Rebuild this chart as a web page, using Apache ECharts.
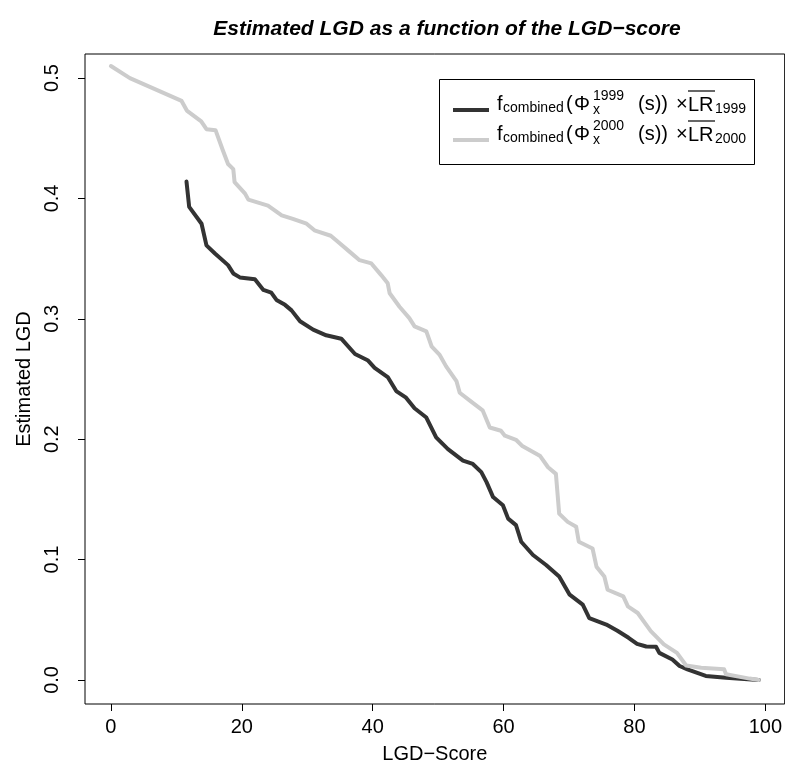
<!DOCTYPE html>
<html><head><meta charset="utf-8">
<script src="https://cdn.jsdelivr.net/npm/echarts@6/dist/echarts.min.js"></script>
<style>html,body{margin:0;padding:0;background:#fff}#c{width:785px;height:769px}</style>
</head><body><div id="c"></div>
<script>
const xTicks = [0, 20, 40, 60, 80, 100];
const yTicks = [0, 0.1, 0.2, 0.3, 0.4, 0.5];
const titleText = 'Estimated LGD as a function of the LGD\u2212score';
const xName = 'LGD\u2212Score';
const yName = 'Estimated LGD';
const seriesNames = ['1999', '2000'];
// LGD-score (x) and estimated LGD (y), 1999
const lgd1999 = [[11.55,0.414],[11.96,0.393],[13.85,0.379],[14.6,0.361],[15.9,0.3543],[17.9,0.3446],[18.7,0.3377],[19.7,0.3344],[22.0,0.3328],[23.3,0.324],[24.5,0.3218],[25.3,0.3157],[26.6,0.3116],[27.6,0.307],[28.9,0.298],[30.9,0.291],[32.9,0.2863],[35.2,0.2835],[37.3,0.2708],[39.3,0.2653],[40.3,0.2593],[42.3,0.2516],[43.6,0.240],[45.1,0.2345],[46.4,0.2257],[48.2,0.218],[49.7,0.2015],[51.5,0.1918],[53.8,0.1822],[55.3,0.1794],[56.6,0.1726],[57.4,0.1643],[58.4,0.1519],[59.9,0.1451],[60.7,0.134],[61.9,0.1286],[62.7,0.1148],[64.5,0.1038],[66.5,0.0955],[68.5,0.0859],[70.1,0.0708],[72.1,0.0625],[73.1,0.0514],[75.7,0.046],[77.4,0.0408],[79.1,0.035],[80.4,0.030],[81.8,0.0278],[83.3,0.0275],[83.8,0.0225],[85.8,0.017],[86.9,0.0116],[88.1,0.0088],[90.9,0.0033],[94.0,0.0019],[99,0.000]];
// 2000
const lgd2000 = [[0,0.510],[2.9,0.500],[10.8,0.481],[11.6,0.473],[13.8,0.464],[14.6,0.4575],[16.0,0.4566],[17.1,0.440],[17.9,0.4286],[18.7,0.4244],[18.9,0.4135],[20.5,0.404],[21.0,0.399],[24.0,0.394],[26.1,0.386],[27.8,0.383],[29.9,0.379],[31.1,0.3735],[33.6,0.369],[35.0,0.3625],[36.5,0.3556],[38.0,0.3487],[39.8,0.346],[41.3,0.3363],[42.3,0.3295],[42.6,0.3212],[44.1,0.310],[45.6,0.3006],[46.4,0.2937],[48.2,0.2896],[49.0,0.2772],[50.2,0.2703],[51.2,0.2607],[52.8,0.2483],[53.3,0.2386],[54.8,0.2323],[56.8,0.2240],[57.9,0.2097],[59.6,0.207],[60.2,0.2029],[61.9,0.1995],[62.8,0.1946],[65.6,0.186],[66.8,0.1767],[68.0,0.1712],[68.5,0.1382],[69.8,0.1313],[71.1,0.1272],[71.5,0.1148],[73.6,0.1092],[74.2,0.0941],[75.4,0.0859],[75.9,0.0749],[78.3,0.0694],[79.0,0.0611],[80.5,0.0556],[82.5,0.0405],[84.5,0.0295],[86.5,0.0225],[87.9,0.012],[90.2,0.0102],[93.7,0.0088],[94.0,0.0047],[97.6,0.0011],[99,0.000]];

const FONT = '"Liberation Sans", Arial, Helvetica, sans-serif';
const C1999 = '#333333', C2000 = '#cccccc';

function legendRow(y0, year, color) {
  const mainSize = 20, subSize = 14;
  const t = (x, y, s, size) => ({ type: 'text', x: x, y: y,
    style: { text: s, font: size + 'px ' + FONT, fill: '#000', align: 'left', verticalAlign: 'middle' } });
  return [
    { type: 'line', shape: { x1: 453, y1: y0 + 6, x2: 489, y2: y0 + 6 }, style: { stroke: color, lineWidth: 4 } },
    t(497, y0, 'f', mainSize),
    t(503, y0 + 4, 'combined', subSize),
    t(566, y0, '(', mainSize),
    t(574, y0, '\u03A6', mainSize),
    t(593, y0 - 8, year, subSize),
    t(593, y0 + 6, 'x', subSize),
    t(638, y0, '(s))', mainSize),
    t(676, y0, '\u00D7', mainSize),
    t(688, y0 + 1, 'LR', mainSize),
    { type: 'line', shape: { x1: 688, y1: y0 - 13, x2: 715, y2: y0 - 13 }, style: { stroke: '#000', lineWidth: 1.2 } },
    t(715, y0 + 5, year, subSize)
  ];
}

const chart = echarts.init(document.getElementById('c'), null, { renderer: 'canvas' });
chart.setOption({
  animation: false,
  backgroundColor: '#fff',
  textStyle: { fontFamily: FONT },
  title: {
    text: titleText, left: 442, top: 14, textAlign: 'center',
    textStyle: { fontFamily: FONT, fontSize: 21, fontWeight: 'bold', fontStyle: 'italic', color: '#000' }
  },
  grid: { left: 85, right: 0, top: 54, bottom: 61, show: true, borderColor: '#000', borderWidth: 1, backgroundColor: 'transparent' },
  xAxis: {
    type: 'value', min: -3.96, max: 102.96,
    name: xName, nameLocation: 'middle', nameGap: 40,
    nameTextStyle: { fontFamily: FONT, fontSize: 20, color: '#000' },
    axisLine: { show: false, onZero: false },
    splitLine: { show: false },
    axisTick: { show: true, length: 7, inside: false, customValues: xTicks, lineStyle: { color: '#000', width: 1 } },
    axisLabel: { customValues: xTicks, margin: 13, fontFamily: FONT, fontSize: 20, color: '#000', formatter: v => String(v) }
  },
  yAxis: {
    type: 'value', min: -0.02, max: 0.52,
    name: yName, nameLocation: 'middle', nameGap: 46, nameRotate: 90,
    nameTextStyle: { fontFamily: FONT, fontSize: 20, color: '#000' },
    axisLine: { show: false, onZero: false },
    splitLine: { show: false },
    axisTick: { show: true, length: 7, inside: false, customValues: yTicks, lineStyle: { color: '#000', width: 1 } },
    axisLabel: { customValues: yTicks, rotate: 90, margin: 23, fontFamily: FONT, fontSize: 20, color: '#000', formatter: v => v.toFixed(1) }
  },
  series: [
    { name: seriesNames[0], type: 'line', data: lgd1999, showSymbol: false, symbol: 'none',
      lineStyle: { color: C1999, width: 4, cap: 'round', join: 'round' }, z: 2 },
    { name: seriesNames[1], type: 'line', data: lgd2000, showSymbol: false, symbol: 'none',
      lineStyle: { color: C2000, width: 4, cap: 'round', join: 'round' }, z: 3 }
  ],
  graphic: [
    { type: 'group', z: 100, children: [
      { type: 'rect', shape: { x: 439.5, y: 79.5, width: 315, height: 85 }, style: { fill: '#fff', stroke: '#000', lineWidth: 1 } }
    ].concat(legendRow(104, seriesNames[0], C1999)).concat(legendRow(134, seriesNames[1], C2000)) }
  ]
});
</script>
</body></html>
